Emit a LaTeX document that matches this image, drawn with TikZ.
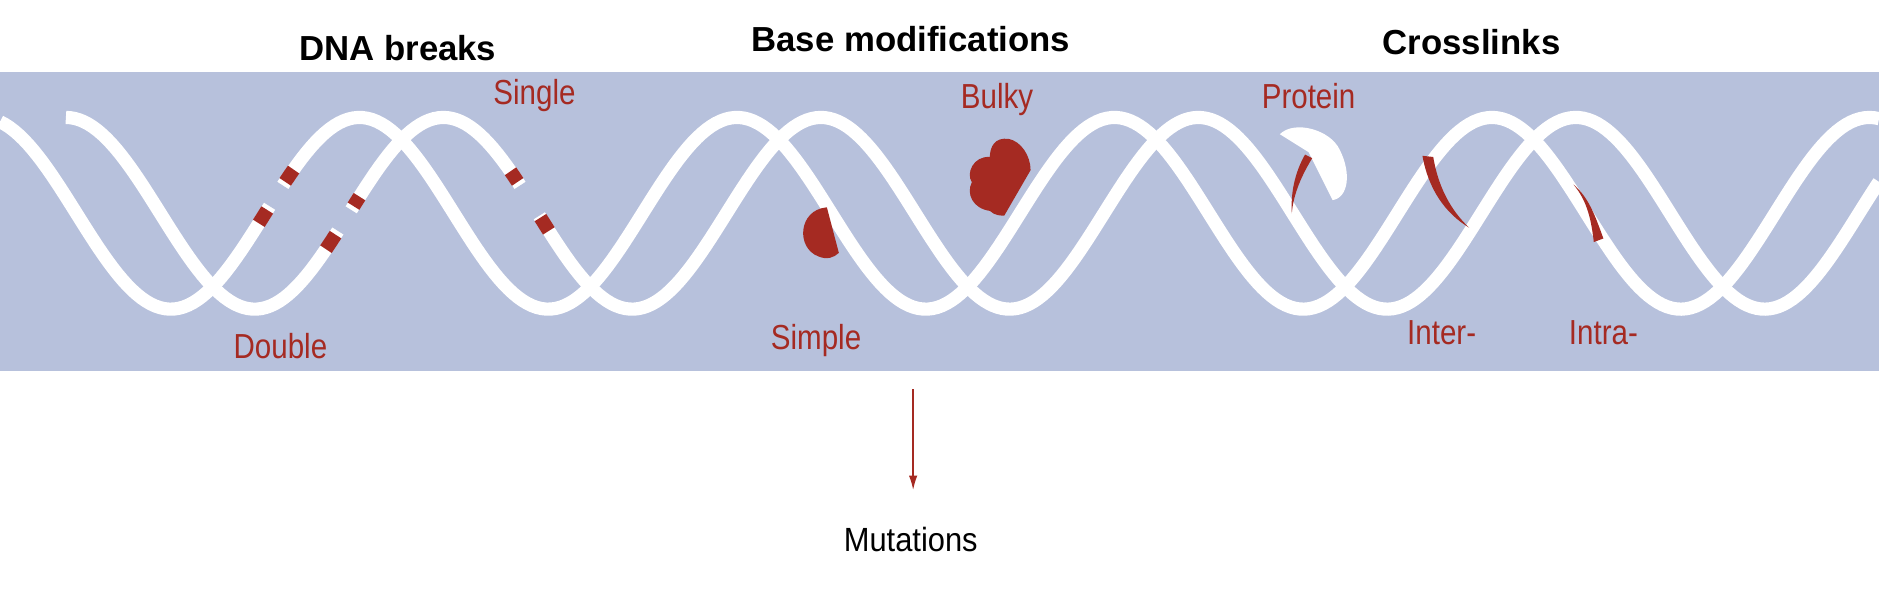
\documentclass[tikz,border=0pt]{standalone}
\usepackage{fontspec}
\usetikzlibrary{arrows.meta}
\setmainfont{Liberation Sans}
\definecolor{band}{HTML}{B7C1DC}
\definecolor{dred}{HTML}{A52A22}
\begin{document}
\begin{tikzpicture}[x=1pt,y=-1pt,
  strand/.style={draw=white,line width=11pt},
  gap/.style={draw=band,line width=14pt},
  cut/.style={draw=dred,line width=11.5pt},
  head/.style={font=\fontsize{29}{32}\selectfont\bfseries},
  lab/.style={text=dred,font=\fontsize{29}{32}\selectfont,xscale=0.85},
  blob/.style={fill=dred,draw=none}]
\useasboundingbox (0,0) rectangle (1568,494);
\fill[band] (0,60) rectangle (1568,310);
% strands
\draw[strand] plot[domain=0:1568,samples=400] (\x,{178-80*cos(1.142857*(\x-300))});
\draw[strand] plot[domain=55:1568,samples=400] (\x,{178-80*cos(1.142857*(\x-370))});
% double break
\draw[gap] plot[domain=225:236,samples=5] (\x,{178-80*cos(1.142857*(\x-300))});
\draw[cut] plot[domain=216:223,samples=3] (\x,{178-80*cos(1.142857*(\x-300))});
\draw[cut] plot[domain=238:245,samples=3] (\x,{178-80*cos(1.142857*(\x-300))});
\draw[gap] plot[domain=282:293,samples=5] (\x,{178-80*cos(1.142857*(\x-370))});
\draw[cut] plot[domain=272:280,samples=3] (\x,{178-80*cos(1.142857*(\x-370))});
\draw[cut] plot[domain=295:300,samples=3] (\x,{178-80*cos(1.142857*(\x-370))});
% single break
\draw[gap] plot[domain=434:450,samples=5] (\x,{178-80*cos(1.142857*(\x-370))});
\draw[cut] plot[domain=426:432,samples=3] (\x,{178-80*cos(1.142857*(\x-370))});
\draw[cut] plot[domain=451:458,samples=3] (\x,{178-80*cos(1.142857*(\x-370))});
% simple
\fill[blob] (690,173) .. controls (666,175) and (664,207) .. (683,214)
  .. controls (690,217) and (696,215) .. (700,211) -- cycle;
% bulky
\fill[blob] (860,142) .. controls (860,130) and (852,118) .. (842,116)
  .. controls (830,114) and (826,123) .. (826,131)
  .. controls (812,130) and (806,145) .. (811,152)
  .. controls (806,162) and (812,174) .. (826,176)
  .. controls (830,180) and (836,180) .. (838,180) -- cycle;
% protein
\fill[white] (1068,112) .. controls (1080,100) and (1110,108) .. (1118,125)
  .. controls (1128,145) and (1125,165) .. (1112,167) -- (1092,127) -- cycle;
\fill[dred] (1089,129) -- (1095,132) .. controls (1084,150) and (1079,165) .. (1078,178)
  .. controls (1077,162) and (1080,145) .. (1089,129) -- cycle;
% inter
\fill[dred] (1187,130) -- (1196,131) .. controls (1200,155) and (1210,175) .. (1226,190)
  .. controls (1206,178) and (1192,158) .. (1187,130) -- cycle;
% intra
\fill[dred] (1313,154) .. controls (1326,165) and (1331,180) .. (1338,199)
  -- (1330,202) .. controls (1328,185) and (1325,168) .. (1313,154) -- cycle;
% headings
\node[head] (h1) at (332,40) {DNA breaks};
\node[head] (h2) at (760,33) {Base modifications};
\node[head] (h3) at (1228,35) {Crosslinks};
\node[lab] (l1) at (446,80) {Single};
\node[lab] (l2) at (832,83) {Bulky};
\node[lab] (l3) at (1092,80) {Protein};
\node[lab] (l4) at (234,289) {Double};
\node[lab] (l5) at (681,284) {Simple};
\node[lab] (l6) at (1203,278) {Inter-};
\node[lab] (l7) at (1338,278) {Intra-};
\coordinate (a0) at (762,325);
\coordinate (a1) at (762,409);
\node[font=\fontsize{28}{32}\selectfont,xscale=0.92] (mut) at (760,450) {Mutations};
\draw[dred,line width=1.3pt,-{Latex[length=12pt,width=7pt]}] (a0) -- (a1);
\end{tikzpicture}
\end{document}
